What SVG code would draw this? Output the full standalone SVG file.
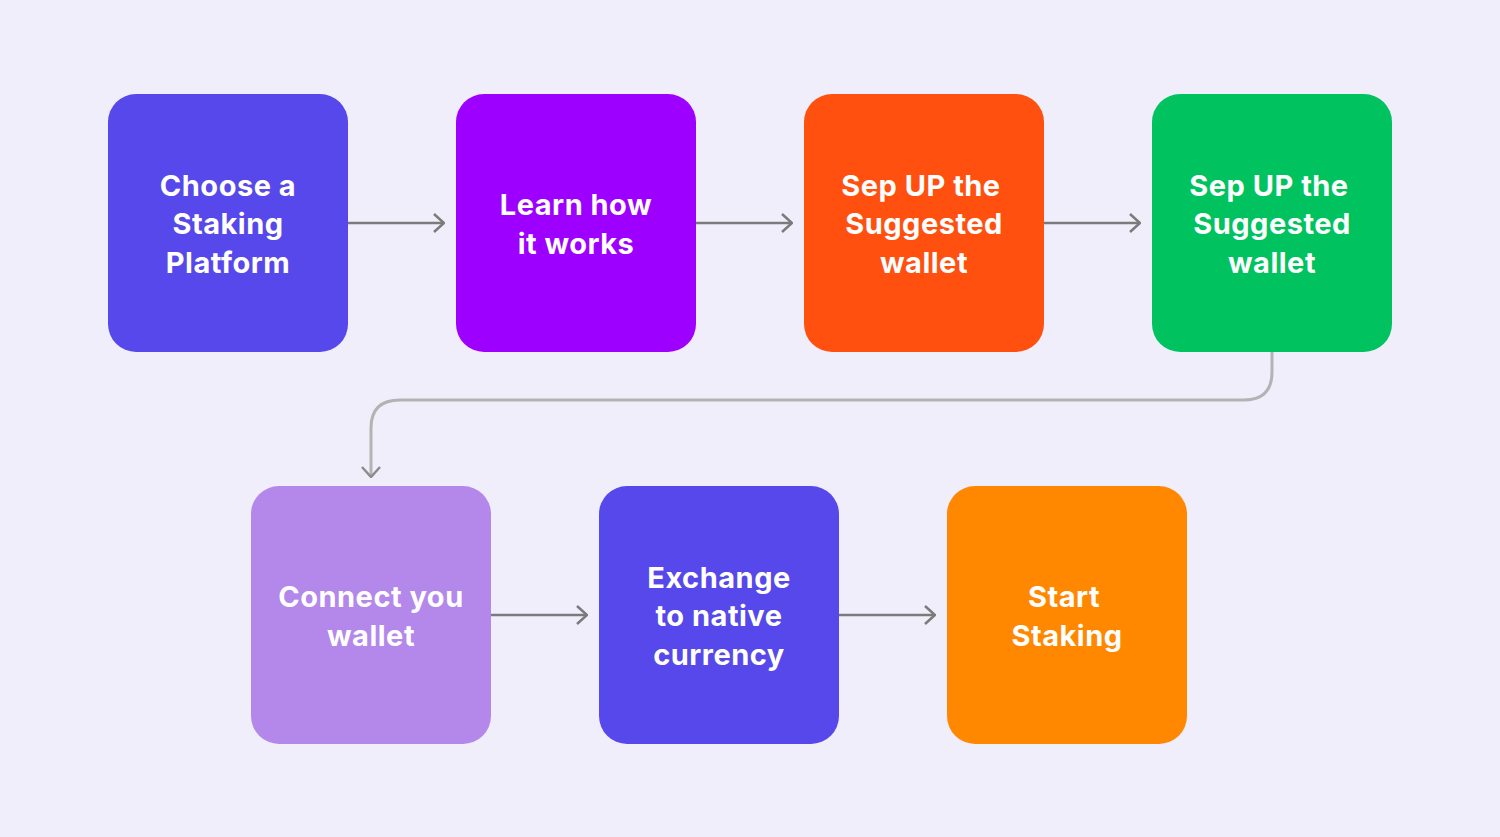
<svg xmlns="http://www.w3.org/2000/svg" width="1500" height="837" viewBox="0 0 1500 837">
<defs>
<style>
.t{font-family:Inter,"Liberation Sans",sans-serif;font-weight:700;font-size:29px;fill:#fff;text-anchor:middle;letter-spacing:0.5px}
.c{fill:none;stroke:#7b7b7b;stroke-width:2.5}
</style>
<marker id="a" viewBox="0 0 12 20" refX="11" refY="10" markerWidth="12" markerHeight="20" markerUnits="userSpaceOnUse" orient="auto"><path d="M1 1 L11 10 L1 19" fill="none" stroke="#7b7b7b" stroke-width="2.5"/></marker>
<marker id="b" viewBox="0 0 12 20" refX="11" refY="10" markerWidth="12" markerHeight="20" markerUnits="userSpaceOnUse" orient="auto"><path d="M1 1 L11 10 L1 19" fill="none" stroke="#8c8c8c" stroke-width="2.5"/></marker>
</defs>
<rect width="1500" height="837" fill="#f1eefc"/>
<g id="connectors">
<path class="c" d="M348 223 H444" marker-end="url(#a)"/>
<path class="c" d="M696 223 H792" marker-end="url(#a)"/>
<path class="c" d="M1044 223 H1140" marker-end="url(#a)"/>
<path d="M1272 352 V372 Q1272 400 1244 400 H400 Q371 400 371 428 V477" fill="none" stroke="#b3b3b3" stroke-width="3" marker-end="url(#b)"/>
<path class="c" d="M491 615 H587" marker-end="url(#a)"/>
<path class="c" d="M839 615 H935" marker-end="url(#a)"/>
</g>
<g id="n1"><rect x="108" y="94" width="240" height="258" rx="28" fill="#5648ea"/><text class="t" x="228" y="196">Choose a</text><text class="t" x="228" y="234">Staking</text><text class="t" x="228" y="273">Platform</text></g>
<g id="n2"><rect x="456" y="94" width="240" height="258" rx="28" fill="#9d00ff"/><text class="t" x="576" y="215">Learn how</text><text class="t" x="576" y="254">it works</text></g>
<g id="n3"><rect x="804" y="94" width="240" height="258" rx="28" fill="#ff5010"/><text class="t" x="921" y="196">Sep UP the</text><text class="t" x="924" y="234">Suggested</text><text class="t" x="924" y="273">wallet</text></g>
<g id="n4"><rect x="1152" y="94" width="240" height="258" rx="28" fill="#00c35f"/><text class="t" x="1269" y="196">Sep UP the</text><text class="t" x="1272" y="234">Suggested</text><text class="t" x="1272" y="273">wallet</text></g>
<g id="n5"><rect x="251" y="486" width="240" height="258" rx="28" fill="#b388ea"/><text class="t" x="371" y="607">Connect you</text><text class="t" x="371" y="646">wallet</text></g>
<g id="n6"><rect x="599" y="486" width="240" height="258" rx="28" fill="#5648ea"/><text class="t" x="719" y="588">Exchange</text><text class="t" x="719" y="626">to native</text><text class="t" x="719" y="665">currency</text></g>
<g id="n7"><rect x="947" y="486" width="240" height="258" rx="28" fill="#ff8800"/><text class="t" x="1064" y="607">Start</text><text class="t" x="1067" y="646">Staking</text></g>
</svg>
